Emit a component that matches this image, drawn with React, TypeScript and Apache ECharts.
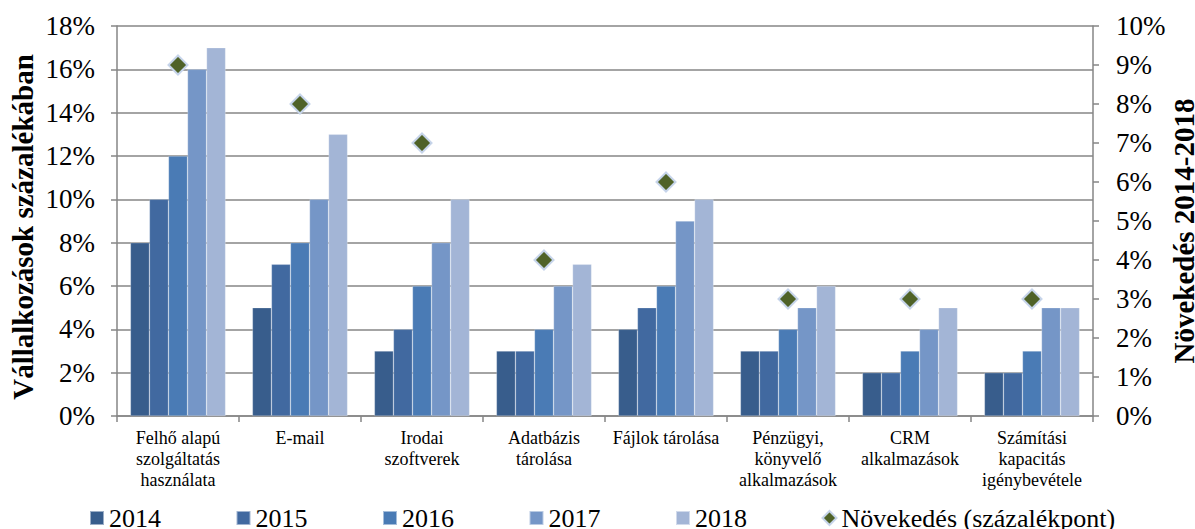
import React, { useEffect, useRef } from "react";
import * as echarts from "echarts";

const categories = [
  "Felhő alapú\nszolgáltatás\nhasználata",
  "E-mail",
  "Irodai\nszoftverek",
  "Adatbázis\ntárolása",
  "Fájlok tárolása",
  "Pénzügyi,\nkönyvelő\nalkalmazások",
  "CRM\nalkalmazások",
  "Számítási\nkapacitás\nigénybevétele",
];
const years = ["2014", "2015", "2016", "2017", "2018"];
const v2014 = [8, 5, 3, 3, 4, 3, 2, 2];
const v2015 = [10, 7, 4, 3, 5, 3, 2, 2];
const v2016 = [12, 8, 6, 4, 6, 4, 3, 3];
const v2017 = [16, 10, 8, 6, 9, 5, 4, 5];
const v2018 = [17, 13, 10, 7, 10, 6, 5, 5];
const growth = [9, 8, 7, 4, 6, 3, 3, 3];
const growthName = "Növekedés (százalékpont)";
const leftTicks = [0, 2, 4, 6, 8, 10, 12, 14, 16, 18];
const rightTicks = [0, 1, 2, 3, 4, 5, 6, 7, 8, 9, 10];

const colors = ["#385d8c", "#4169a0", "#4a7bb5", "#7596c7", "#a3b5d6"];
const FONT = "Liberation Serif";

export default function App() {
  const ref = useRef<HTMLDivElement>(null);
  useEffect(() => {
    if (!ref.current) return;
    const chart = echarts.init(ref.current, undefined, { renderer: "svg" });
    const yearVals = [v2014, v2015, v2016, v2017, v2018];
    const barSeries = years.map((y, i) => ({
      name: y,
      type: "bar",
      data: yearVals[i],
      yAxisIndex: 0,
      barGap: "0%",
      barCategoryGap: "22%",
      itemStyle: { color: colors[i], borderColor: "rgba(255,255,255,0.5)", borderWidth: 0.5 },
    }));
    chart.setOption({
      animation: false,
      textStyle: { fontFamily: FONT },
      grid: {
        left: 117,
        right: 102,
        top: 26,
        bottom: 113,
        containLabel: false,
        outerBoundsMode: "none",
      },
      legend: {
        left: 89,
        top: 505,
        padding: 0,
        itemWidth: 14,
        itemHeight: 14,
        itemGap: 74.5,
        textStyle: { fontFamily: FONT, fontSize: 26, lineHeight: 22, color: "#000" },
        data: [
          ...years.map((y) => ({ name: y, icon: "rect" })),
          { name: growthName, icon: "diamond" },
        ],
      },
      xAxis: {
        type: "category",
        data: categories,
        boundaryGap: true,
        axisLine: { lineStyle: { color: "#868686", width: 1.5 } },
        axisTick: { show: true, length: 6, lineStyle: { color: "#868686", width: 1.5 } },
        axisLabel: {
          fontFamily: FONT,
          fontSize: 18,
          color: "#000",
          lineHeight: 21,
          margin: 11,
          interval: 0,
        },
      },
      yAxis: [
        {
          type: "value",
          min: 0,
          max: 18,
          interval: 2,
          name: "Vállalkozások százalékában",
          nameLocation: "middle",
          nameGap: 80,
          nameRotate: 90,
          nameMoveOverlap: false,
          nameTextStyle: {
            fontFamily: FONT,
            fontSize: 29,
            fontWeight: "bold",
            color: "#000",
            padding: [0, 12, 0, 0],
          },
          axisLine: { show: true, lineStyle: { color: "#868686", width: 1.5 } },
          axisTick: { show: true, length: 6, lineStyle: { color: "#868686", width: 1.5 } },
          splitLine: { show: true, lineStyle: { color: "#868686", width: 1.5 } },
          axisLabel: {
            fontFamily: FONT,
            fontSize: 27,
            color: "#000",
            margin: 22,
            formatter: (v: number) => (leftTicks.includes(v) ? v + "%" : ""),
          },
        },
        {
          type: "value",
          min: 0,
          max: 10,
          interval: 1,
          position: "right",
          name: "Növekedés 2014-2018",
          nameLocation: "middle",
          nameGap: 76,
          nameRotate: 90,
          nameMoveOverlap: false,
          nameTextStyle: {
            fontFamily: FONT,
            fontSize: 29,
            fontWeight: "bold",
            color: "#000",
            padding: [0, 20, 0, 0],
          },
          axisLine: { show: true, lineStyle: { color: "#868686", width: 1.5 } },
          axisTick: { show: true, length: 6, lineStyle: { color: "#868686", width: 1.5 } },
          splitLine: { show: false },
          axisLabel: {
            fontFamily: FONT,
            fontSize: 27,
            color: "#000",
            margin: 23,
            formatter: (v: number) => (rightTicks.includes(v) ? v + "%" : ""),
          },
        },
      ],
      series: [
        ...barSeries,
        {
          name: growthName,
          type: "scatter",
          yAxisIndex: 1,
          data: growth,
          symbol: "diamond",
          symbolSize: 19,
          z: 10,
          itemStyle: { color: "#4f6228", borderColor: "#c6d4ea", borderWidth: 2, opacity: 1 },
        },
      ],
    });
    return () => chart.dispose();
  }, []);
  return (
    <div
      ref={ref}
      style={{ position: "fixed", left: 0, top: 0, width: 1195, height: 529, background: "#fff" }}
    />
  );
}
